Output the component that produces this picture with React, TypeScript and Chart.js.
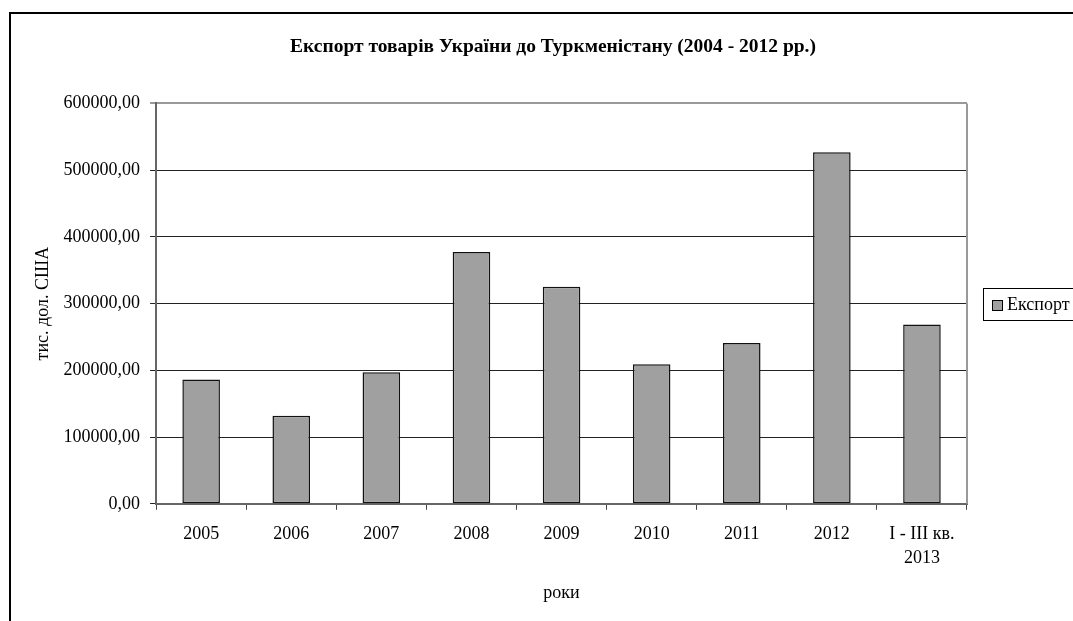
import React, { useEffect, useRef } from "react";
import { Chart, registerables } from "chart.js";

Chart.register(...registerables);

const categories: (string | string[])[] = [
  "2005", "2006", "2007", "2008", "2009", "2010", "2011", "2012", ["I - III кв.", "2013"],
];
const exportValues = [186100, 132000, 197100, 377300, 325100, 209200, 240800, 526700, 268500];
const seriesLabel = "Експорт";
const chartTitle = "Експорт товарів України до Туркменістану (2004 - 2012 рр.)";
const yTitle = "тис. дол. США";
const xTitle = "роки";
const yMax = 600000;
const yStep = 100000;

const FONT = '"Liberation Serif", "Times New Roman", serif';

const boxLegend = {
  id: "boxLegend",
  afterDraw(chart: any) {
    const { ctx, chartArea } = chart;
    const ds = chart.data.datasets[0];
    const h = 32;
    const x = Math.round(chartArea.right + 16);
    const y = Math.round((chartArea.top + chartArea.bottom) / 2 - h / 2);
    ctx.save();
    ctx.font = `18px ${FONT}`;
    const tw = ctx.measureText(ds.label).width;
    const w = 24 + tw + 10;
    ctx.strokeStyle = "#000";
    ctx.lineWidth = 1;
    ctx.strokeRect(x + 0.5, y + 0.5, w, h);
    ctx.fillStyle = ds.backgroundColor;
    ctx.fillRect(x + 9, y + 12, 10, 10);
    ctx.strokeRect(x + 9.5, y + 12.5, 10, 10);
    ctx.fillStyle = "#000";
    ctx.textBaseline = "middle";
    ctx.fillText(ds.label, x + 24, y + h / 2 + 1);
    ctx.restore();
  },
};

const plotBorder = {
  id: "plotBorder",
  beforeDatasetsDraw(chart: any) {
    const { ctx, chartArea } = chart;
    ctx.save();
    ctx.strokeStyle = "#999";
    ctx.lineWidth = 2;
    ctx.beginPath();
    ctx.moveTo(chartArea.right, chartArea.top);
    ctx.lineTo(chartArea.right, chartArea.bottom);
    ctx.stroke();
    ctx.restore();
  },
};

export default function App() {
  const ref = useRef<HTMLCanvasElement | null>(null);
  useEffect(() => {
    if (!ref.current) return;
    const chart = new Chart(ref.current, {
      type: "bar",
      data: {
        labels: categories as any,
        datasets: [
          {
            label: seriesLabel,
            data: exportValues,
            backgroundColor: "#a0a0a0",
            borderColor: "#111",
            borderWidth: 1.5,
            borderSkipped: false,
            barPercentage: 0.417,
            categoryPercentage: 1,
          },
        ],
      },
      options: {
        responsive: false,
        animation: false,
        layout: { padding: { left: 21, right: 57, top: 0, bottom: 50 } },
        plugins: {
          legend: { display: false },
          tooltip: { enabled: false },
          title: {
            display: true,
            text: chartTitle,
            color: "#000",
            font: { family: FONT, size: 19.5, weight: "bold" },
            padding: { top: 21, bottom: 45 },
          },
        },
        scales: {
          x: {
            grid: {
              display: true,
              drawOnChartArea: false,
              drawTicks: true,
              tickLength: 6,
              color: "#444",
              offset: true,
            },
            border: { display: true, color: "#666", width: 2 },
            ticks: {
              color: "#000",
              font: { family: FONT, size: 18, lineHeight: 1.35 },
              padding: 12,
              maxRotation: 0,
              autoSkip: false,
            },
            title: {
              display: true,
              text: xTitle,
              color: "#000",
              font: { family: FONT, size: 18 },
              padding: { top: 0, bottom: 0 },
            },
          },
          y: {
            min: 0,
            max: yMax,
            grid: {
              color: (c: any) => (c.tick && c.tick.value === yMax ? "#999" : "#222"),
              lineWidth: (c: any) => (c.tick && c.tick.value === yMax ? 2 : 1),
              drawTicks: true,
              tickLength: 6,
            },
            border: { display: true, color: "#666", width: 2 },
            ticks: {
              stepSize: yStep,
              color: "#000",
              font: { family: FONT, size: 18 },
              padding: 10,
              callback: (v: any) => Number(v).toFixed(2).replace(".", ","),
            },
            title: {
              display: true,
              text: yTitle,
              color: "#000",
              font: { family: FONT, size: 18 },
              padding: { top: 0, bottom: 0 },
            },
          },
          legendSpace: {
            type: "linear",
            position: "right",
            display: true,
            grid: { display: false, drawTicks: false },
            border: { display: false },
            ticks: { display: false },
            afterFit: (scale: any) => {
              scale.width = 107;
            },
          },
        } as any,
      },
      plugins: [plotBorder, boxLegend],
    });
    return () => chart.destroy();
  }, []);

  return (
    <div style={{ position: "fixed", left: 0, top: 0, width: 1073, height: 621, overflow: "hidden", background: "#fff" }}>
      <div style={{ position: "absolute", left: 9, top: 12, border: "2px solid #000", width: 1120, height: 640 }}>
        <canvas ref={ref} width={1120} height={640} style={{ display: "block", width: 1120, height: 640 }} />
      </div>
    </div>
  );
}
